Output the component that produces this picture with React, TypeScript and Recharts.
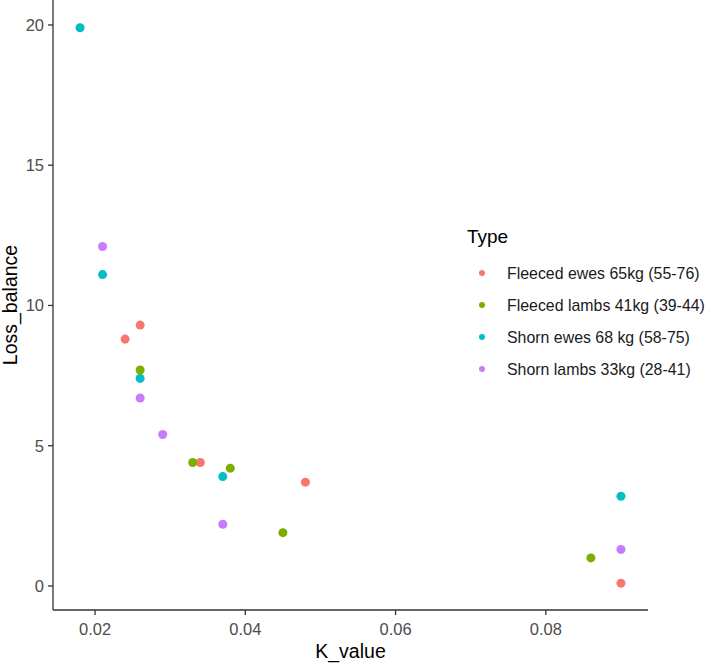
import { ScatterChart, Scatter, XAxis, YAxis, ZAxis, Legend, Label } from 'recharts'

// K_value / Loss_balance per animal type
const fleecedEwesK = [0.024, 0.026, 0.034, 0.048, 0.09]
const fleecedEwesLoss = [8.8, 9.3, 4.4, 3.7, 0.1]
const fleecedLambsK = [0.026, 0.033, 0.038, 0.045, 0.086]
const fleecedLambsLoss = [7.7, 4.4, 4.2, 1.9, 1.0]
const shornEwesK = [0.018, 0.021, 0.026, 0.037, 0.09]
const shornEwesLoss = [19.9, 11.1, 7.4, 3.9, 3.2]
const shornLambsK = [0.021, 0.026, 0.029, 0.037, 0.09]
const shornLambsLoss = [12.1, 6.7, 5.4, 2.2, 1.3]

const xTicks = [0.02, 0.04, 0.06, 0.08]
const yTicks = [0, 5, 10, 15, 20]

const FONT = '"Liberation Sans", Arial, sans-serif'

const toPoints = (k: number[], loss: number[]) => k.map((v, i) => ({ k: v, loss: loss[i] }))

const series = [
  { name: 'Fleeced ewes 65kg (55-76)', color: '#F8766D', data: toPoints(fleecedEwesK, fleecedEwesLoss) },
  { name: 'Fleeced lambs 41kg (39-44)', color: '#7CAE00', data: toPoints(fleecedLambsK, fleecedLambsLoss) },
  { name: 'Shorn ewes 68 kg (58-75)', color: '#00BFC4', data: toPoints(shornEwesK, shornEwesLoss) },
  { name: 'Shorn lambs 33kg (28-41)', color: '#C77CFF', data: toPoints(shornLambsK, shornLambsLoss) },
]

const TypeLegend = () => (
  <svg width={254} height={170} style={{ fontFamily: FONT }}>
    <text x={12} y={23} fontSize={19} fill="#000">Type</text>
    {series.map((s, i) => (
      <g key={s.name}>
        <circle cx={27} cy={53 + i * 32} r={3} fill={s.color} />
        <text x={52} y={59 + i * 32} fontSize={15.9} fill="#1a1a1a">{s.name}</text>
      </g>
    ))}
  </svg>
)

const YTitle = ({ viewBox }: any) => {
  const cy = viewBox.y + viewBox.height / 2
  return (
    <text
      x={17}
      y={cy}
      transform={`rotate(-90, 17, ${cy})`}
      textAnchor="middle"
      fontSize={19.5}
      fill="#000"
      fontFamily={FONT}
    >
      Loss_balance
    </text>
  )
}

export default function App() {
  const tickStyle = { fill: '#4D4D4D', fontSize: 16.5, fontFamily: FONT }
  return (
    <div style={{ position: 'absolute', left: 0, top: 0, width: 709, height: 663, background: '#fff' }}>
      <ScatterChart width={709} height={663} margin={{ top: 0, right: 61, left: 0, bottom: 0 }}>
        <XAxis
          type="number"
          dataKey="k"
          domain={[0.0144, 0.0936]}
          ticks={xTicks}
          allowDataOverflow
          height={53}
          tickSize={5}
          tickMargin={8}
          stroke="#333"
          strokeWidth={1.3}
          tick={tickStyle}
          tickFormatter={(v) => v.toFixed(2)}
        >
          <Label value="K_value" position="insideBottom" offset={5} fontSize={19.5} fill="#000" fontFamily={FONT} />
        </XAxis>
        <YAxis
          type="number"
          dataKey="loss"
          domain={[-0.857, 20.89]}
          ticks={yTicks}
          allowDataOverflow
          width={53}
          tickSize={5}
          tickMargin={4}
          stroke="#333"
          strokeWidth={1.3}
          tick={tickStyle}
        >
          <Label content={<YTitle />} />
        </YAxis>
        <ZAxis range={[34, 34]} />
        <Legend
          layout="vertical"
          align="center"
          verticalAlign="middle"
          wrapperStyle={{ left: 455, top: 220, width: 254, height: 170 }}
          content={() => <TypeLegend />}
        />
        {series.map((s) => (
          <Scatter key={s.name} name={s.name} data={s.data} fill={s.color} isAnimationActive={false} />
        ))}
      </ScatterChart>
    </div>
  )
}
